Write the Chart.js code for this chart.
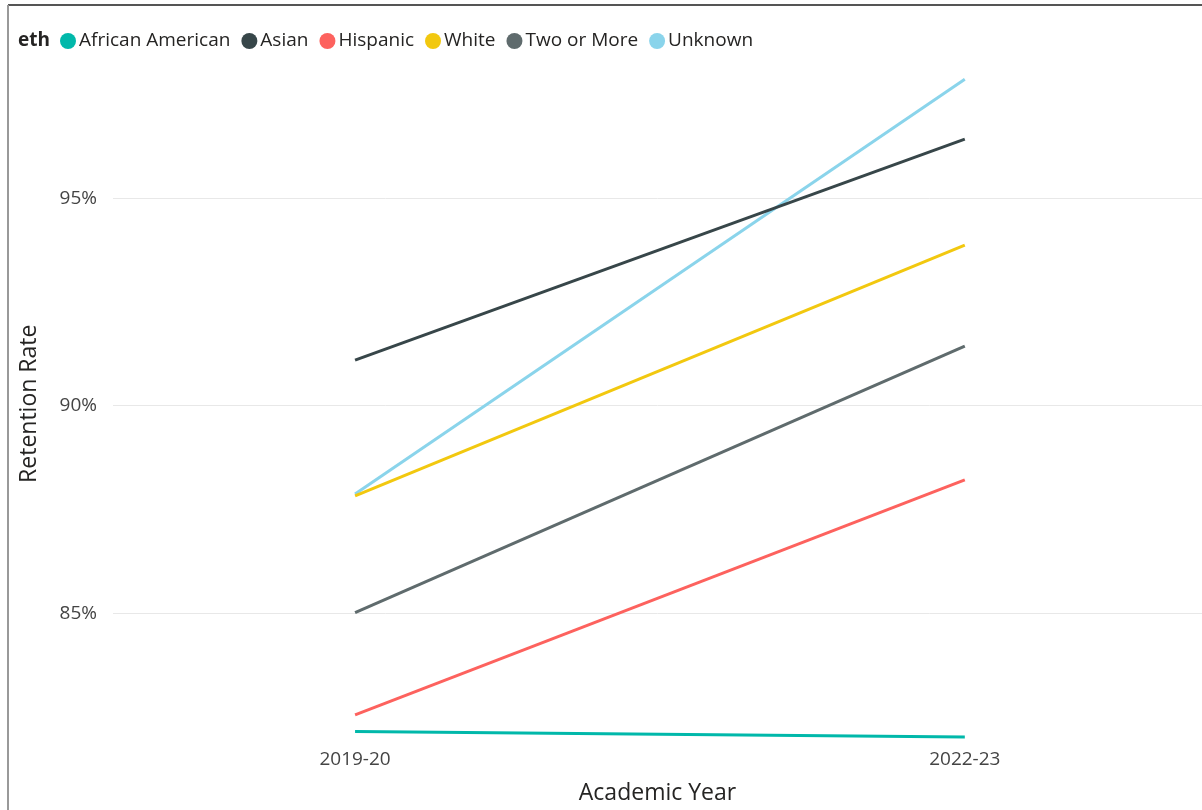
<!DOCTYPE html>
<html>
<head>
<meta charset="utf-8">
<script src="https://cdn.jsdelivr.net/npm/chart.js@4"></script>
<style>
  html, body { margin: 0; padding: 0; background: #fff; }
  #wrap { position: relative; width: 1202px; height: 810px; }
</style>
</head>
<body>
<div id="wrap"><canvas id="c" width="1202" height="810"></canvas></div>
<script>
// Academic years on the horizontal axis
const categories = ['2019-20', '2022-23'];

// Retention rate (%) by ethnicity
const africanAmerican = [82.16, 82.03];
const asian           = [91.10, 96.42];
const hispanic        = [82.56, 88.22];
const white           = [87.83, 93.87];
const twoOrMore       = [85.02, 91.44];
const unknown         = [87.88, 97.86];

const yTicks = [85, 90, 95];

const seriesNames  = ['African American', 'Asian', 'Hispanic', 'White', 'Two or More', 'Unknown'];
const seriesValues = [africanAmerican, asian, hispanic, white, twoOrMore, unknown];
const seriesColors = ['#01B8AA', '#374649', '#FD625E', '#F2C80F', '#5F6B6D', '#8AD4EB'];

const FONT = "'Open Sans', 'Noto Sans', sans-serif";

const datasets = seriesNames.map((name, i) => ({
  label: name,
  data: seriesValues[i].map((v, j) => ({ x: j, y: v })),
  borderColor: seriesColors[i],
  backgroundColor: seriesColors[i],
  borderWidth: 3,
  pointRadius: 0,
  pointHoverRadius: 0,
  tension: 0
}));

// Frame lines and the inline legend row with its "eth" heading
const framePlugin = {
  id: 'frame',
  beforeDraw(chart) {
    const ctx = chart.ctx;
    ctx.save();
    ctx.fillStyle = '#fff';
    ctx.fillRect(0, 0, chart.width, chart.height);
    ctx.restore();
  },
  afterDraw(chart) {
    const ctx = chart.ctx;
    ctx.save();
    ctx.lineWidth = 2;
    ctx.strokeStyle = '#555';
    ctx.beginPath();
    ctx.moveTo(8, 5);
    ctx.lineTo(chart.width, 5);
    ctx.stroke();
    ctx.strokeStyle = '#999';
    ctx.beginPath();
    ctx.moveTo(8, 5);
    ctx.lineTo(8, chart.height);
    ctx.stroke();

    const cy = 41;
    ctx.textBaseline = 'middle';
    ctx.textAlign = 'left';
    ctx.fillStyle = '#252423';
    ctx.font = 'bold 19px ' + FONT;
    ctx.fillText('eth', 18, cy);
    ctx.font = '19px ' + FONT;
    let x = 60;
    chart.data.datasets.forEach(ds => {
      ctx.fillStyle = ds.borderColor;
      ctx.beginPath();
      ctx.arc(x + 8, cy, 8, 0, Math.PI * 2);
      ctx.fill();
      ctx.fillStyle = '#252423';
      ctx.fillText(ds.label, x + 19, cy);
      x += 19 + ctx.measureText(ds.label).width + 11;
    });
    ctx.restore();
  }
};

new Chart(document.getElementById('c'), {
  type: 'line',
  data: { datasets },
  plugins: [framePlugin],
  options: {
    responsive: false,
    animation: false,
    devicePixelRatio: 1,
    layout: { padding: { top: 61, left: 0, right: 0, bottom: 0 } },
    plugins: {
      legend: { display: false },
      tooltip: { enabled: false }
    },
    scales: {
      x: {
        type: 'linear',
        min: -0.397,
        max: 1.389,
        afterBuildTicks(scale) { scale.ticks = categories.map((c, i) => ({ value: i })); },
        afterFit(scale) { scale.height = 63.5; },
        grid: { display: false, drawTicks: false },
        border: { display: false },
        ticks: {
          padding: 2,
          color: '#444',
          font: { family: FONT, size: 19 },
          callback: (v) => categories[v]
        },
        title: {
          display: true,
          text: 'Academic Year',
          color: '#252423',
          font: { family: FONT, size: 23 },
          padding: { top: 0, bottom: 3 }
        }
      },
      y: {
        min: 81.8,
        max: 98.3,
        afterBuildTicks(scale) { scale.ticks = yTicks.map(v => ({ value: v })); },
        afterFit(scale) { scale.width = 113; },
        grid: { color: '#E8E8E8', lineWidth: 1, drawTicks: false },
        border: { display: false },
        ticks: {
          padding: 16,
          color: '#444',
          font: { family: FONT, size: 19 },
          callback: (v) => v + '%'
        },
        title: {
          display: true,
          text: 'Retention Rate',
          color: '#252423',
          font: { family: FONT, size: 23 },
          padding: { top: 16, bottom: 0 }
        }
      }
    }
  }
});
</script>
</body>
</html>
